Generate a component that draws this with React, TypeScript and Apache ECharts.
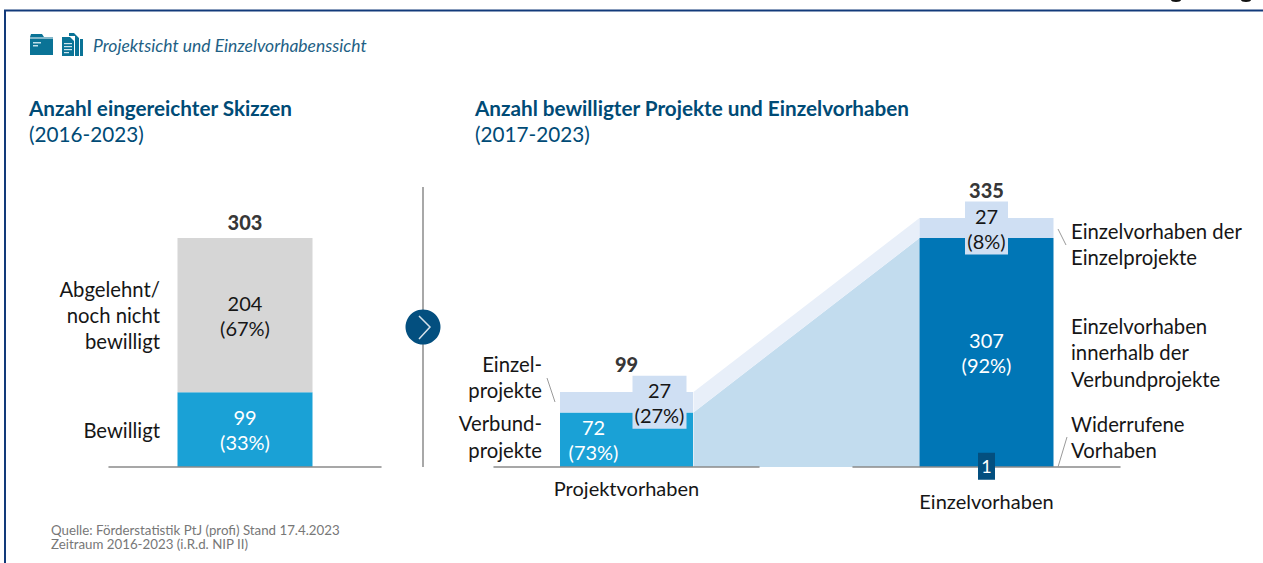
import React, { useEffect, useRef } from "react";
import * as echarts from "echarts";

const FONT = "Lato, 'Noto Sans', sans-serif";
const skizzenCats = ["Skizzen"];
const bewilligt = [99];
const bewilligtPct = [33];
const abgelehnt = [204];
const abgelehntPct = [67];
const skizzenTotal = [303];
const projektCats = ["Projektvorhaben"];
const verbund = [72];
const verbundPct = [73];
const einzelProjekte = [27];
const einzelProjektePct = [27];
const projektTotal = [99];
const einzelCats = ["Einzelvorhaben"];
const innerhalb = [307];
const innerhalbPct = [92];
const einzelEinzel = [27];
const einzelEinzelPct = [8];
const einzelTotal = [335];
const widerrufen = [1];

const C = {
  navy: "#034F7F", title: "#004B76", blue: "#1AA1D6", deep: "#0076B6", pale: "#CFDFF3",
  gray: "#D6D6D6", ribbon: "#C2DCEE", ribbonTop: "#E8EFF9", axis: "#8A8A8A", text: "#161616",
  border: "#123A7A", teal: "#0A7396",
};

function txt(text: string, x: number, y: number, o: any = {}) {
  return {
    type: "text", silent: true, z: 20,
    style: {
      text, x, y, fill: o.fill ?? C.text,
      font: `${o.style ?? "normal"} ${o.weight ?? "normal"} ${o.size ?? 20.3}px ${FONT}`,
      textAlign: o.align ?? "left", textVerticalAlign: "middle",
    },
  };
}
function seg(x1: number, y1: number, x2: number, y2: number, stroke = "#9A9A9A", lineWidth = 1) {
  return { type: "line", silent: true, z: 20, shape: { x1, y1, x2, y2 }, style: { stroke, lineWidth } };
}
function box(x: number, y: number, width: number, height: number, fill: string) {
  return { type: "rect", silent: true, z: 20, shape: { x, y, width, height }, style: { fill } };
}
function poly(points: number[][], fill: string) {
  return { type: "polygon", silent: true, z: 20, shape: { points }, style: { fill } };
}

const pctLabel = (vals: number[], pcts: number[]) => () => `${vals[0]}\n(${pcts[0]}%)`;

function App() {
  const ref = useRef<HTMLDivElement>(null);
  useEffect(() => {
    const chart = echarts.init(ref.current!, null, { renderer: "svg" });
    const barLabel = { show: true, position: "inside", fontFamily: FONT, fontSize: 20, lineHeight: 25 };
    const total = (xi: number, data: number[], distance: number) => ({
      type: "scatter", xAxisIndex: xi, yAxisIndex: xi, z: 6, symbolSize: 1,
      itemStyle: { color: "transparent" },
      data: data.map((v, i) => [i, v]),
      label: {
        show: true, position: "top", distance, color: "#000", fontFamily: FONT, fontSize: 20,
        fontWeight: 900, formatter: (p: any) => String(p.value[1]),
      },
    });
    const catAxis = (gridIndex: number, data: string[], margin: number, show = true) => ({
      type: "category", gridIndex, data, z: 5,
      axisLine: { show: true, lineStyle: { color: C.axis, width: 1.5 } },
      axisTick: { show: false },
      axisLabel: { show, margin, color: C.text, fontFamily: FONT, fontSize: 20 },
    });
    chart.setOption({
      animation: false,
      grid: [
        { left: 109, width: 272, top: 167, height: 300 },
        { left: 494, width: 265, top: 167, height: 300 },
        { left: 853, width: 267, top: 167, height: 300 },
      ],
      xAxis: [catAxis(0, skizzenCats, 0, false), catAxis(1, projektCats, 11), catAxis(2, einzelCats, 24)],
      yAxis: [
        { type: "value", gridIndex: 0, min: 0, max: 397, show: false },
        { type: "value", gridIndex: 1, min: 0, max: 396, show: false },
        { type: "value", gridIndex: 2, min: 0, max: 402.4, show: false },
      ],
      series: [
        {
          type: "custom", coordinateSystem: "none", z: 1, silent: true, data: [0],
          renderItem: () => {
            const half = 67;
            const a0 = chart.convertToPixel({ gridIndex: 1 }, [0, 0]) as number[];
            const a1 = chart.convertToPixel({ gridIndex: 1 }, [0, verbund[0]]) as number[];
            const a2 = chart.convertToPixel({ gridIndex: 1 }, [0, verbund[0] + einzelProjekte[0]]) as number[];
            const b0 = chart.convertToPixel({ gridIndex: 2 }, [0, 0]) as number[];
            const b1 = chart.convertToPixel({ gridIndex: 2 }, [0, innerhalb[0]]) as number[];
            const b2 = chart.convertToPixel({ gridIndex: 2 }, [0, innerhalb[0] + einzelEinzel[0]]) as number[];
            const xa = a0[0] + half, xb = b0[0] - half;
            return {
              type: "group",
              children: [
                { type: "polygon", shape: { points: [[xa, a1[1]], [xa, a0[1]], [xb, b0[1]], [xb, b1[1]]] }, style: { fill: C.ribbon } },
                { type: "polygon", shape: { points: [[xa, a2[1]], [xa, a1[1]], [xb, b1[1]], [xb, b2[1]]] }, style: { fill: C.ribbonTop } },
              ],
            };
          },
        },
        {
          type: "bar", xAxisIndex: 0, yAxisIndex: 0, stack: "s", barWidth: 135, data: bewilligt,
          itemStyle: { color: C.blue },
          label: { ...barLabel, color: "#fff", formatter: pctLabel(bewilligt, bewilligtPct) },
        },
        {
          type: "bar", xAxisIndex: 0, yAxisIndex: 0, stack: "s", barWidth: 135, data: abgelehnt,
          itemStyle: { color: C.gray },
          label: { ...barLabel, color: C.text, formatter: pctLabel(abgelehnt, abgelehntPct) },
        },
        {
          type: "bar", xAxisIndex: 1, yAxisIndex: 1, stack: "p", barWidth: 133, data: verbund,
          itemStyle: { color: C.blue },
          label: { ...barLabel, color: "#fff", offset: [-33, 0], formatter: pctLabel(verbund, verbundPct) },
        },
        {
          type: "bar", xAxisIndex: 1, yAxisIndex: 1, stack: "p", barWidth: 133, data: einzelProjekte,
          itemStyle: { color: C.pale },
          label: {
            ...barLabel, color: C.text, offset: [33, 0], backgroundColor: C.pale, width: 54, align: "center",
            padding: [2, 0, 1, 0], formatter: pctLabel(einzelProjekte, einzelProjektePct),
          },
        },
        {
          type: "bar", xAxisIndex: 2, yAxisIndex: 2, stack: "e", barWidth: 134, data: innerhalb,
          itemStyle: { color: C.deep },
          label: { ...barLabel, color: "#fff", formatter: pctLabel(innerhalb, innerhalbPct) },
        },
        {
          type: "bar", xAxisIndex: 2, yAxisIndex: 2, stack: "e", barWidth: 134, data: einzelEinzel,
          itemStyle: { color: C.pale },
          label: {
            ...barLabel, color: C.text, backgroundColor: C.pale, width: 43, align: "center",
            padding: [2, 0, 1, 0], formatter: pctLabel(einzelEinzel, einzelEinzelPct),
          },
        },
        total(0, skizzenTotal, 6),
        total(1, projektTotal, 18),
        total(2, einzelTotal, 17),
        {
          type: "scatter", xAxisIndex: 2, yAxisIndex: 2, z: 7, symbol: "rect", symbolSize: [17, 27],
          itemStyle: { color: C.navy, opacity: 1 },
          data: widerrufen.map((v) => [0, v]),
          label: {
            show: true, position: "inside", color: "#fff", fontFamily: FONT, fontSize: 18,
            formatter: (p: any) => String(p.value[1]),
          },
        },
      ],
      graphic: [
        { type: "polyline", silent: true, z: 20, shape: { points: [[5, 563], [5, 10.5], [1263, 10.5]] }, style: { stroke: C.border, fill: "none", lineWidth: 2 } },
        poly([[30, 37], [31, 34], [42, 34], [44, 37], [53, 37], [53, 55], [30, 55]], C.teal),
        box(30, 37.5, 23, 1, "#FFFFFF"),
        box(33, 42, 8, 1.5, "#BFE0EA"), box(33, 45, 5, 1.5, "#BFE0EA"),
        poly([[80, 39], [83, 39], [83, 56], [80, 56]], C.teal),
        poly([[69, 33], [74, 33], [79, 38], [79, 56], [75, 56], [75, 36], [69, 36]], C.teal),
        poly([[62, 37], [70, 37], [74, 41], [74, 56], [62, 56]], C.teal),
        box(64, 43, 8, 1.2, "#CFE6EE"), box(64, 46, 8, 1.2, "#CFE6EE"), box(64, 49, 8, 1.2, "#CFE6EE"), box(64, 52, 5, 1.2, "#CFE6EE"),
        txt("Projektsicht und Einzelvorhabenssicht", 93, 45, { style: "italic", size: 17.5, fill: "#1E5F85" }),
        txt("Anzahl eingereichter Skizzen", 29, 108, { weight: "bold", size: 20.7, fill: C.title }),
        txt("(2016-2023)", 29, 134, { size: 20.7, fill: C.title }),
        txt("Anzahl bewilligter Projekte und Einzelvorhaben", 475, 108, { weight: "bold", size: 20.7, fill: C.title }),
        txt("(2017-2023)", 475, 134, { size: 20.7, fill: C.title }),
        txt("Abgelehnt/", 160, 289, { align: "right" }),
        txt("noch nicht", 160, 315, { align: "right" }),
        txt("bewilligt", 160, 341, { align: "right" }),
        txt("Bewilligt", 160, 430, { align: "right" }),
        txt("Einzel-", 542, 364, { align: "right" }),
        txt("projekte", 542, 390, { align: "right" }),
        txt("Verbund-", 542, 423, { align: "right" }),
        txt("projekte", 542, 450, { align: "right" }),
        txt("Einzelvorhaben der", 1071, 231),
        txt("Einzelprojekte", 1071, 257),
        txt("Einzelvorhaben", 1071, 326),
        txt("innerhalb der", 1071, 352),
        txt("Verbundprojekte", 1071, 379),
        txt("Widerrufene", 1071, 424),
        txt("Vorhaben", 1071, 450),
        txt("Quelle: Förderstatistik PtJ (profi) Stand 17.4.2023", 51, 530, { size: 13.3, fill: "#777" }),
        txt("Zeitraum 2016-2023 (i.R.d. NIP II)", 51, 544, { size: 13.3, fill: "#777" }),
        seg(547, 378, 555, 402), seg(1058, 229, 1066, 245), seg(1067, 437, 1058, 467),
        seg(423, 187, 423, 467, "#A8A8A8", 2),
        { type: "circle", silent: true, z: 21, shape: { cx: 423, cy: 327, r: 17.5 }, style: { fill: C.navy } },
        { type: "polyline", silent: true, z: 22, shape: { points: [[419, 316], [430, 327], [419, 339]] }, style: { stroke: "#D5E1EA", fill: "none", lineWidth: 1.5 } },
        { type: "ellipse", silent: true, z: 20, shape: { cx: 1176, cy: 0, rx: 5, ry: 2 }, style: { fill: "#111" } },
        { type: "ellipse", silent: true, z: 20, shape: { cx: 1246, cy: 0, rx: 5, ry: 2 }, style: { fill: "#111" } },
      ],
    });
    return () => chart.dispose();
  }, []);
  return <div ref={ref} style={{ position: "fixed", left: 0, top: 0, width: 1263, height: 563, background: "#fff" }} />;
}

export default App;
